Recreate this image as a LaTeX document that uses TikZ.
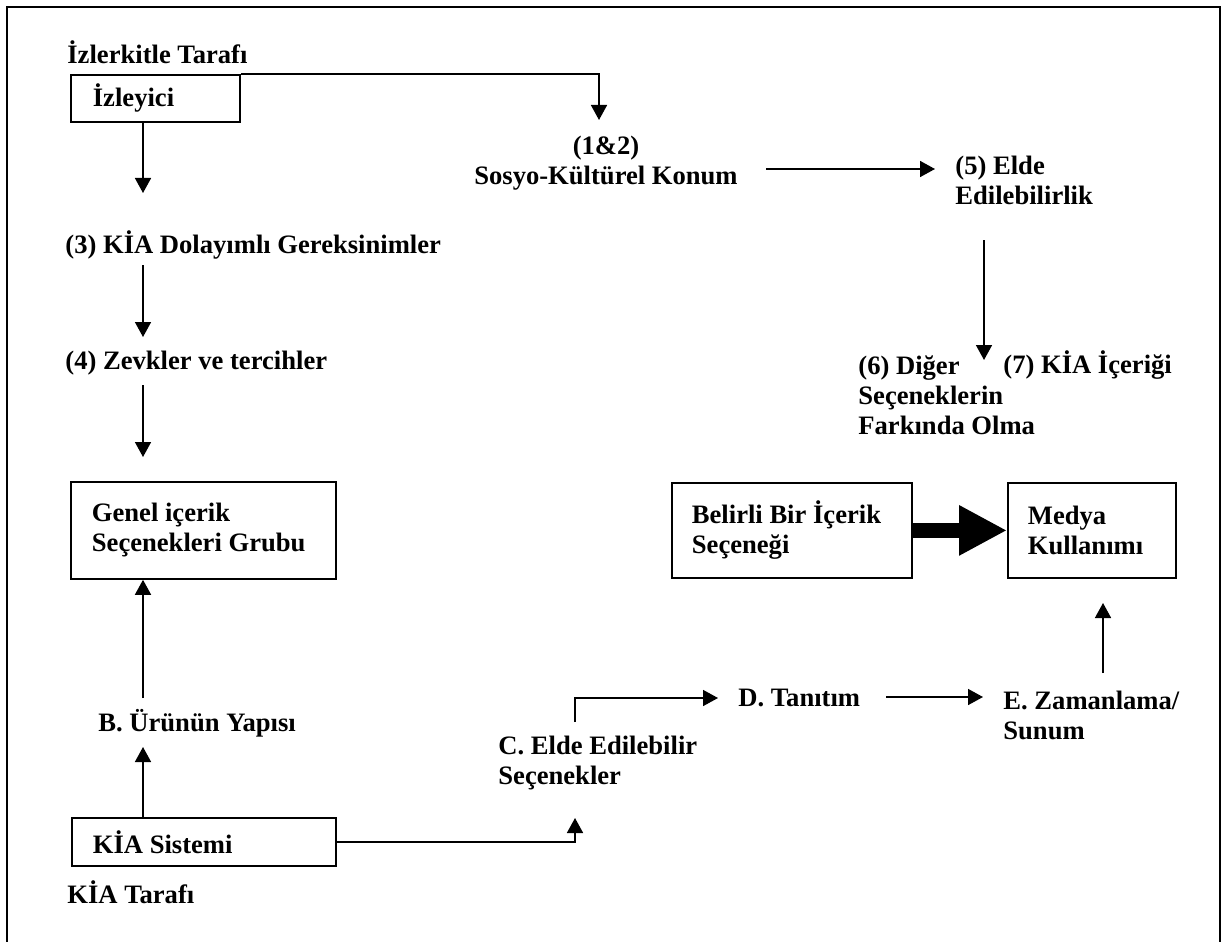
\documentclass[tikz,border=0pt]{standalone}
\usepackage{fontspec}
\setmainfont{Liberation Serif}
\usetikzlibrary{arrows.meta,calc}
\newcommand\lblfont{\fontsize{13.3pt}{15pt}\selectfont\bfseries}
\begin{document}
\begin{tikzpicture}[x=0.5pt,y=-0.5pt,
  conn/.style={line width=0.8pt,-{Triangle[length=7.5pt,width=8pt]}},
  lbl/.style={inner sep=0pt,anchor=west,align=flush left,font=\lblfont},
  box/.style={draw,line width=0.9pt,anchor=north west,inner ysep=0pt,align=flush left,font=\lblfont},
  bigarrow/.style={line width=7.5pt,-{Triangle[length=24pt,width=23.5pt]}}]
\useasboundingbox (0,0) rectangle (1224,941);
% outer frame (its lower edge lies below the page)
\draw[line width=1.1pt] (7,980) -- (7,7) -- (1220,7) -- (1220,980);

% boxes
\node[box,inner xsep=11pt,text width=62.5pt,minimum height=23.5pt] (izl) at (70,74) {İzleyici};
\node[box,inner xsep=10.5pt,text width=111.5pt,minimum height=48.5pt] (gen) at (70,481) {Genel içerik\\Seçenekleri Grubu};
\node[box,inner xsep=10.5pt,text width=111pt,minimum height=24pt] (kia) at (71,817) {KİA Sistemi};
\node[box,inner xsep=10pt,text width=100pt,minimum height=47.5pt] (bel) at (671,482) {Belirli Bir İçerik\\Seçeneği};
\node[box,inner xsep=10pt,text width=64pt,minimum height=47.5pt] (med) at (1007,482) {Medya\\Kullanımı};

% free labels
\node[lbl] (tl) at (67,52) {İzlerkitle Tarafı};
\node[lbl] (k3) at (65,245) {(3) KİA Dolayımlı Gereksinimler};
\node[lbl] (k4) at (65,363) {(4) Zevkler ve tercihler};
\node[lbl] (bU) at (98,723) {B. Ürünün Yapısı};
\node[lbl] (kt) at (67,892) {KİA Tarafı};
\node[lbl,anchor=center,align=center] (sos) at (606,163) {(1\&2)\\Sosyo-Kültürel Konum};
\node[lbl] (k5) at (955,180) {(5) Elde\\Edilebilirlik};
\node[lbl] (k6) at (858,395) {(6) Diğer\\Seçeneklerin\\Farkında Olma};
\node[lbl] (k7) at (1003,365) {(7) KİA İçeriği};
\node[lbl] (cE) at (498,763) {C. Elde Edilebilir\\Seçenekler};
\node[lbl] (dT) at (738,698) {D. Tanıtım};
\node[lbl] (eZ) at (1003,715) {E. Zamanlama/\\Sunum};

% free ends of connectors
\coordinate (a12) at (599,120);
\coordinate (t3) at (143,193);
\coordinate (s4) at (143,265);
\coordinate (t4) at (143,337);
\coordinate (s5) at (143,385);
\coordinate (t5) at (143,457);
\coordinate (sB) at (143,698);
\coordinate (tB) at (143,747);
\coordinate (tC) at (575,818);
\coordinate (sC) at (575,722);
\coordinate (tD) at (718,698);
\coordinate (sE) at (886,697);
\coordinate (tE) at (983,697);
\coordinate (sM) at (1103,673);
\coordinate (tM) at (1103,603);
\coordinate (sK) at (766,169);
\coordinate (tK) at (935,169);
\coordinate (s6) at (984,240);
\coordinate (t6) at (984,360);

% connectors
\draw[conn] (izl.north east) -| (a12);
\draw[conn] (izl.south -| t3) -- (t3);
\draw[conn] (s4) -- (t4);
\draw[conn] (s5) -- (t5);
\draw[conn] (sB) -- (gen.south -| sB);
\draw[conn] (kia.north -| tB) -- (tB);
\draw[conn] (kia.east) -| (tC);
\draw[conn] (sC) |- (tD);
\draw[conn] (sE) -- (tE);
\draw[conn] (sM) -- (tM);
\draw[conn] (sK) -- (tK);
\draw[conn] (s6) -- (t6);
\draw[bigarrow] (bel.east) -- (med.west);
\end{tikzpicture}
\end{document}
